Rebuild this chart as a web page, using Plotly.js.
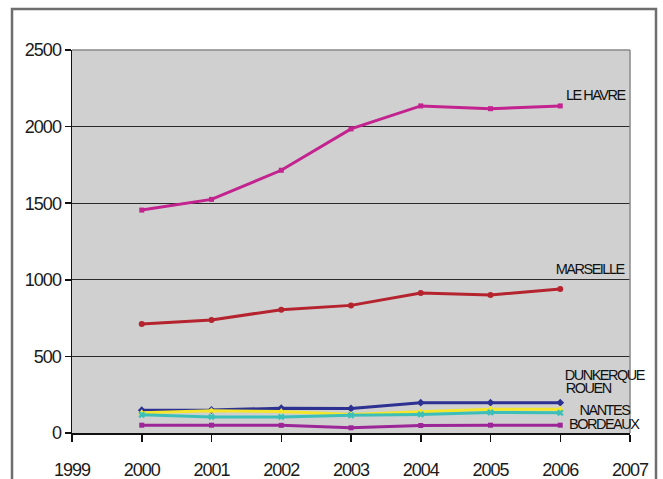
<!DOCTYPE html>
<html>
<head>
<meta charset="utf-8">
<script src="https://cdn.plot.ly/plotly-3.0.1.min.js"></script>
<style>
  html, body { margin: 0; padding: 0; background: #fff; }
  #chart { width: 663px; height: 479px; }
  /* tight tracking on every label */
  #chart .xtick text, #chart .ytick text { letter-spacing: -1px; }
  #chart .annotation-text { letter-spacing: -1.5px; }
</style>
</head>
<body>
<div id="chart"></div>
<script>
// Port traffic by year
const years = [2000, 2001, 2002, 2003, 2004, 2005, 2006];

const leHavre   = [1455, 1525, 1715, 1985, 2135, 2117, 2135];
const marseille = [712, 738, 805, 833, 914, 901, 940];
const dunkerque = [149, 150, 162, 160, 198, 198, 198];
const rouen     = [132, 145, 140, 121, 138, 155, 155];
const nantes    = [119, 105, 105, 116, 121, 134, 132];
const bordeaux  = [51, 51, 50, 34, 49, 51, 51];

const seriesNames = ['LE HAVRE', 'MARSEILLE', 'DUNKERQUE', 'ROUEN', 'NANTES', 'BORDEAUX'];

const yTicks = [0, 500, 1000, 1500, 2000, 2500];
const xTicks = [1999, 2000, 2001, 2002, 2003, 2004, 2005, 2006, 2007];

function line(y, name, color, symbol, size) {
  return {
    x: years, y: y, name: name, type: 'scatter', mode: 'lines+markers',
    line: { color: color, width: 3 },
    marker: { color: color, symbol: symbol, size: size },
    hoverinfo: 'x+y+name'
  };
}

const traces = [
  line(dunkerque, seriesNames[2], '#2c3192', 'diamond', 6),
  line(rouen,     seriesNames[3], '#f4e62a', 'triangle-up', 7),
  line(nantes,    seriesNames[4], '#3cbfb9', 'x', 6),
  line(bordeaux,  seriesNames[5], '#9c2697', 'square', 5),
  line(marseille, seriesNames[1], '#b5232e', 'circle', 6),
  line(leHavre,   seriesNames[0], '#c2238e', 'square', 5)
];

// Series labels beside the right end of each line (centred on their x)
const labelFont = { family: 'Liberation Sans, Arial, sans-serif', size: 14.5, color: '#111111' };
const labels = [
  { text: seriesNames[0], x: 2006.50, y: 2207 },
  { text: seriesNames[1], x: 2006.43, y: 1072 },
  { text: seriesNames[2], x: 2006.64, y: 377 },
  { text: seriesNames[3], x: 2006.40, y: 295 },
  { text: seriesNames[4], x: 2006.64, y: 149 },
  { text: seriesNames[5], x: 2006.63, y: 60 }
].map(a => ({
  text: a.text, x: a.x, y: a.y, xref: 'x', yref: 'y',
  xanchor: 'center', yanchor: 'middle', showarrow: false, font: labelFont
}));

const layout = {
  width: 663, height: 479,
  margin: { l: 72, r: 33, t: 50, b: 46 },
  paper_bgcolor: '#ffffff',
  plot_bgcolor: '#d0d0d0',
  showlegend: false,
  font: { family: 'Liberation Sans, Arial, sans-serif', color: '#1a1a1a' },
  xaxis: {
    range: [1999, 2007], tickvals: xTicks, ticktext: xTicks.map(String),
    showgrid: false, zeroline: false,
    showline: true, linecolor: '#111', linewidth: 1.5,
    ticks: 'outside', ticklen: 7, tickcolor: '#111', tickwidth: 1.5,
    ticklabelstandoff: 13,
    tickfont: { size: 18, color: '#1a1a1a' }
  },
  yaxis: {
    range: [0, 2500], tickvals: yTicks, ticktext: yTicks.map(String),
    showgrid: true, gridcolor: '#2a2a2a', gridwidth: 1.2, zeroline: false,
    showline: true, linecolor: '#111', linewidth: 1.5,
    ticks: 'outside', ticklen: 6, tickcolor: '#111', tickwidth: 1.5,
    tickfont: { size: 18, color: '#1a1a1a' }
  },
  shapes: [
    // grey top and right edges of the plotting area
    { type: 'line', xref: 'paper', yref: 'paper', x0: 0, x1: 1, y0: 1, y1: 1,
      line: { color: '#8a8a8a', width: 1.5 }, layer: 'above' },
    { type: 'line', xref: 'paper', yref: 'paper', x0: 1, x1: 1, y0: 0, y1: 1,
      line: { color: '#8a8a8a', width: 1.5 }, layer: 'above' },
    // outer frame, open at the bottom
    { type: 'rect', xref: 'paper', yref: 'paper',
      x0: -0.1075, x1: 1.0466, y0: -0.2, y1: 1.107,
      line: { color: '#6e6e6e', width: 2.5 }, fillcolor: 'rgba(0,0,0,0)', layer: 'below' }
  ],
  annotations: labels
};

Plotly.newPlot('chart', traces, layout, { displayModeBar: false, staticPlot: true });
</script>
</body>
</html>
